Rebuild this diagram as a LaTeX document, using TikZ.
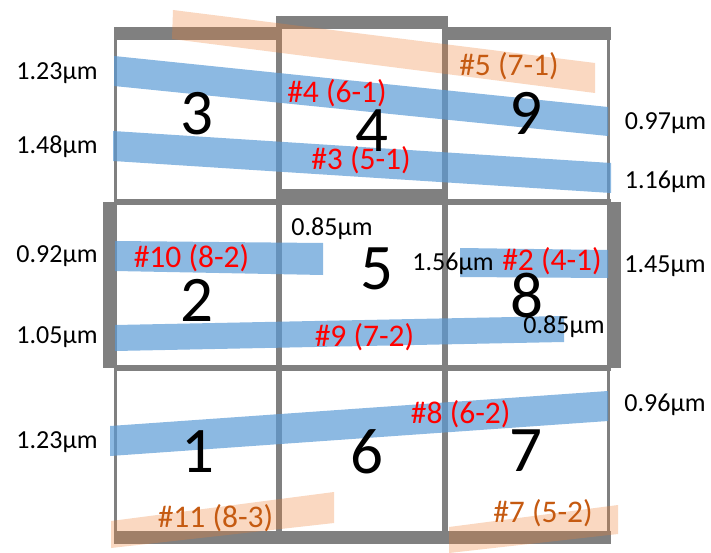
\documentclass[tikz,border=0pt]{standalone}
\usepackage{fontspec}
\setmainfont{Carlito}
\definecolor{gridgray}{RGB}{128,128,128}
\definecolor{bandblue}{RGB}{91,155,213}
\definecolor{bandorange}{RGB}{237,125,49}
\definecolor{labred}{RGB}{255,0,0}
\definecolor{laborange}{RGB}{197,90,17}
\begin{document}
\begin{tikzpicture}[x=1pt,y=-1pt,
  bar/.style={fill=gridgray},
  blueband/.style={fill=bandblue,fill opacity=0.7},
  orangeband/.style={fill=bandorange,fill opacity=0.3},
  meas/.style={font=\fontsize{26}{30}\selectfont,inner sep=0pt},
  redlab/.style={font=\fontsize{31.5}{36}\selectfont,text=labred,inner sep=0pt},
  orglab/.style={font=\fontsize{31.5}{36}\selectfont,text=laborange,inner sep=0pt},
  cellnum/.style={font=\fontsize{65}{72}\selectfont,inner sep=0pt}]
\useasboundingbox (0,0) rectangle (711,553);
% grid lines
\draw[gridgray,line width=3.5] (115.3,27) -- (115.3,544);
\draw[gridgray,line width=6] (279,16) -- (279,531);
\draw[gridgray,line width=6] (445,16) -- (445,531);
\draw[gridgray,line width=3.5] (608.7,27) -- (608.7,544);
\draw[gridgray,line width=6] (113.5,202) -- (610.5,202);
\draw[gridgray,line width=6] (113.5,368) -- (610.5,368);
% thick bars
\fill[bar] (113.5,26.7) rectangle (280,40);
\fill[bar] (276,16) rectangle (448,29);
\fill[bar] (442,26.7) rectangle (610.5,40);
\fill[bar] (276,189) rectangle (448,202);
\fill[bar] (103,201.7) rectangle (116,368);
\fill[bar] (608,201.7) rectangle (621,368);
\fill[bar] (113.5,531) rectangle (610.7,544);
% bands
\fill[blueband] (114,56) -- (608,107) -- (608,136) -- (114,86) -- cycle;
\fill[blueband] (113,131) -- (611,163) -- (611,193) -- (113,161) -- cycle;
\fill[orangeband] (173,10) -- (595,63) -- (595,93) -- (172,39) -- cycle;
\fill[blueband] (115,241) -- (323,243) -- (323,275) -- (115,271) -- cycle;
\fill[blueband] (115,325) -- (564,316) -- (564,342) -- (115,351) -- cycle;
\fill[blueband] (460,248) -- (608,250) -- (608,278) -- (460,277) -- cycle;
\fill[blueband] (110,426) -- (608,391) -- (608,421) -- (110,456) -- cycle;
\fill[orangeband] (111,521) -- (334,492) -- (334,523) -- (111,548) -- cycle;
\fill[orangeband] (449,527) -- (618,505) -- (618,534) -- (449,553) -- cycle;
% cell numbers
\node[cellnum] (c3) at (196.5,114) {3};
\node[cellnum] (c4) at (372,131) {4};
\node[cellnum] (c9) at (526,113) {9};
\node[cellnum] (c2) at (197,300) {2};
\node[cellnum] (c5) at (377,269) {5};
\node[cellnum] (c8) at (527,296) {8};
\node[cellnum] (c1) at (198,452) {1};
\node[cellnum] (c6) at (367,452) {6};
\node[cellnum] (c7) at (526,451) {7};
% measurements
\node[meas] (m1) at (57,73) {1.23µm};
\node[meas] (m2) at (57,147) {1.48µm};
\node[meas] (m3) at (57,256) {0.92µm};
\node[meas] (m4) at (57,337) {1.05µm};
\node[meas] (m5) at (57,442) {1.23µm};
\node[meas] (m6) at (665.5,123) {0.97µm};
\node[meas] (m7) at (665.5,182) {1.16µm};
\node[meas] (m8) at (665,266) {1.45µm};
\node[meas] (m9) at (665,405) {0.96µm};
\node[meas] (m10) at (332,229) {0.85µm};
\node[meas] (m11) at (453,264) {1.56µm};
\node[meas] (m12) at (564,327) {0.85µm};
% labels
\node[redlab] (l4) at (337,93) {\#4 (6-1)};
\node[redlab] (l3) at (361,160) {\#3 (5-1)};
\node[redlab] (l10) at (191.5,258) {\#10 (8-2)};
\node[redlab] (l9) at (364.5,337) {\#9 (7-2)};
\node[redlab] (l2) at (552,261) {\#2 (4-1)};
\node[redlab] (l8) at (460.7,414) {\#8 (6-2)};
\node[orglab] (l5) at (509,66) {\#5 (7-1)};
\node[orglab] (l11) at (215.5,518) {\#11 (8-3)};
\node[orglab] (l7) at (543,513) {\#7 (5-2)};
\end{tikzpicture}
\end{document}
